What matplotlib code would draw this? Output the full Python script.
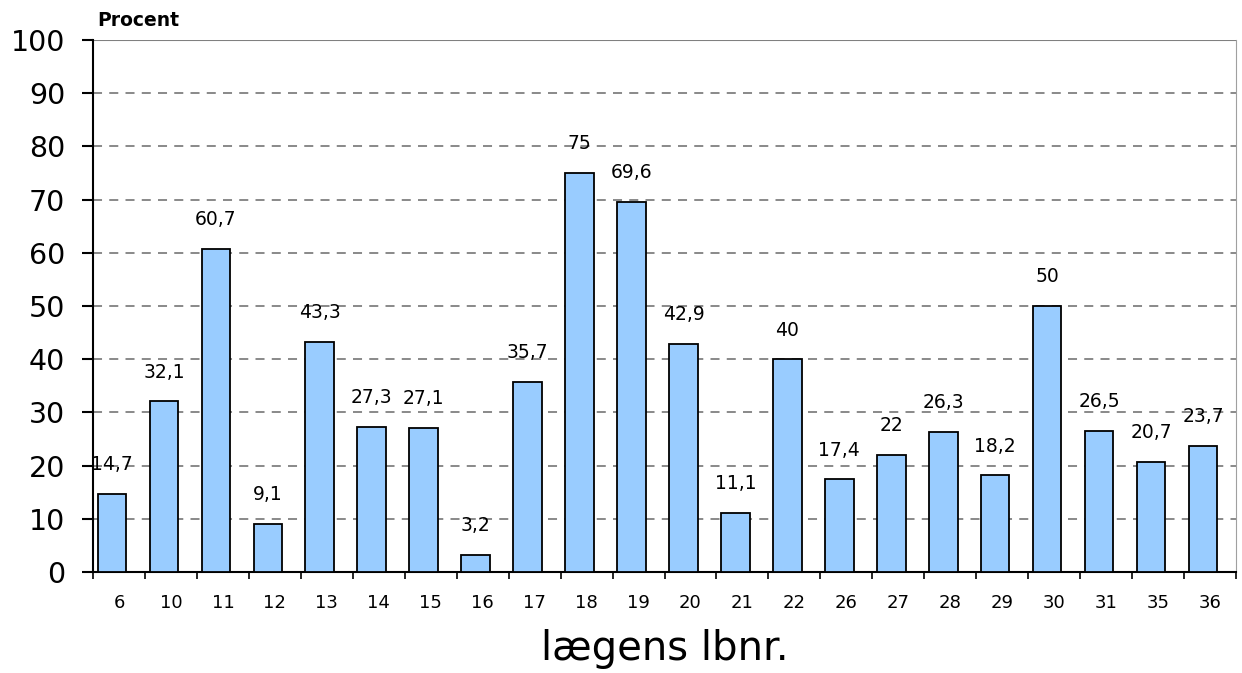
import matplotlib
matplotlib.use('Agg')
import matplotlib.pyplot as plt
import numpy as np

# lægens løbenummer og andel i procent
laeger = ['6', '10', '11', '12', '13', '14', '15', '16', '17', '18', '19',
          '20', '21', '22', '26', '27', '28', '29', '30', '31', '35', '36']
procent = [14.7, 32.1, 60.7, 9.1, 43.3, 27.3, 27.1, 3.2, 35.7, 75, 69.6,
           42.9, 11.1, 40, 17.4, 22, 26.3, 18.2, 50, 26.5, 20.7, 23.7]
yticks = list(range(0, 101, 10))

plt.rcParams['font.family'] = ['DejaVu Sans']

fig = plt.figure(figsize=(12.42, 6.73), dpi=100)
ax = fig.add_axes([93 / 1242, 1 - 572 / 673, (1236 - 93) / 1242, (572 - 40) / 673])

x = np.arange(len(laeger))
ax.bar(x - 0.135, procent, width=0.55, color='#99ccff', edgecolor='black',
       linewidth=1.3, zorder=3)


def fmt(v):
    # dansk decimalkomma, hele tal uden decimal
    if float(v).is_integer():
        return str(int(v))
    return ('%.1f' % v).replace('.', ',')


for xi, v in zip(x, procent):
    ax.annotate(fmt(v), (xi - 0.135, v), xytext=(0, 21), textcoords='offset points',
                ha='center', va='center', fontsize=13.5, zorder=4)

ax.set_xlim(-0.5, len(laeger) - 0.5)
ax.set_ylim(0, 100)
ax.set_yticks(yticks)
ax.set_yticklabels([str(t) for t in yticks], fontsize=20.5)
ax.set_xticks(x)
ax.set_xticklabels(laeger, fontsize=13)
ax.set_xticks(np.arange(len(laeger) + 1) - 0.5, minor=True)
ax.tick_params(axis='x', which='major', length=0, pad=16)
ax.tick_params(axis='x', which='minor', length=5, width=1.2, direction='out')
ax.tick_params(axis='y', length=8, width=1.5, pad=12, direction='out')

# stiplede gitterlinjer, øverste linje fuldt optrukket
for t in yticks[1:-1]:
    ax.axhline(t, color='#808080', linestyle=(0, (5, 4)), linewidth=1.3, zorder=1)
ax.axhline(100, color='#808080', linewidth=1.5, zorder=1)

ax.spines['top'].set_visible(False)
ax.spines['right'].set_color('#a0a0a0')
ax.spines['left'].set_linewidth(1.5)
ax.spines['bottom'].set_linewidth(1.5)

ax.set_xlabel('lægens lbnr.', fontsize=29, labelpad=12)
fig.text(97 / 1242, 1 - 20 / 673, 'Procent', fontsize=13.5, fontweight='bold',
         ha='left', va='center')

fig.savefig('out.png', dpi=100)
